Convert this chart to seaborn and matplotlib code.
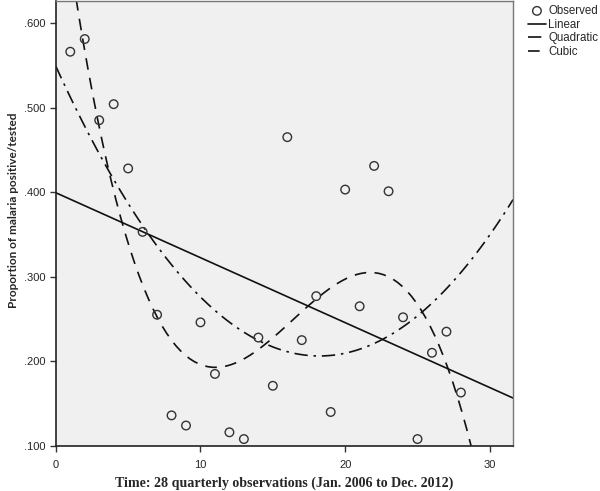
import matplotlib
matplotlib.use('Agg')
import matplotlib.pyplot as plt
import numpy as np
import pandas as pd
import seaborn as sns

# Observed proportions, quarterly 2006-2012
quarter = list(range(1, 29))
proportion = [0.566, 0.581, 0.485, 0.504, 0.428, 0.353, 0.255, 0.136,
              0.124, 0.246, 0.185, 0.116, 0.108, 0.228, 0.171, 0.465,
              0.225, 0.277, 0.140, 0.403, 0.265, 0.431, 0.401, 0.252,
              0.108, 0.210, 0.235, 0.163]

x_ticks = [0, 10, 20, 30]
y_ticks = [0.1, 0.2, 0.3, 0.4, 0.5, 0.6]

df = pd.DataFrame({'time': quarter, 'prop': proportion})

sns.set_style('white')
plt.rcParams['font.family'] = ['Liberation Sans', 'DejaVu Sans']

fig = plt.figure(figsize=(6, 4.91), dpi=100)
ax = fig.add_axes([0.093, 0.092, 0.762, 0.906])
ax.set_facecolor('#f0f0f0')
ax.set_xlim(0, 31.6)
ax.set_ylim(0.1, 0.626)

# fitted curves (SPSS curve estimation: linear, quadratic, cubic)
fits = [(1, 'Linear', None), (2, 'Quadratic', (8, 3.5, 1.5, 3.5)), (3, 'Cubic', (7, 5))]
sns.scatterplot(data=df, x='time', y='prop', ax=ax, marker='o', s=38,
                facecolor='none', edgecolor='#333333', linewidth=1.0,
                label='Observed', zorder=3)
for order, name, dash in fits:
    kws = dict(color='#111111', lw=1.2)
    if dash is not None:
        kws['dashes'] = dash
    sns.regplot(data=df, x='time', y='prop', order=order, ci=None,
                scatter=False, truncate=False, ax=ax, line_kws=kws)
    ax.lines[-1].set_label(name)

ax.set_xlim(0, 31.6)
ax.set_ylim(0.1, 0.626)
ax.set_xticks(x_ticks)
ax.set_yticks(y_ticks)
ax.set_yticklabels(['.%03d' % round(v * 1000) for v in y_ticks])
ax.tick_params(axis='both', labelsize=8, length=4, width=1, color='#333333',
               direction='out', bottom=True, left=True)
ax.tick_params(axis='x', pad=6)

for side in ['left', 'bottom']:
    ax.spines[side].set_color('#222222')
    ax.spines[side].set_linewidth(1.2)
for side in ['top', 'right']:
    ax.spines[side].set_color('#777777')
    ax.spines[side].set_linewidth(1.0)

ax.set_xlabel('Time: 28 quarterly observations (Jan. 2006 to Dec. 2012)',
              fontfamily='Liberation Serif', fontweight='bold', fontsize=10.1)
ax.set_ylabel('Proportion of malaria positive/tested', fontfamily='Lato',
              fontweight='bold', fontsize=8.5)
ax.xaxis.set_label_coords(0.5, -0.068)
ax.yaxis.set_label_coords(-0.08, 0.53)

leg = ax.legend(loc='upper left', bbox_to_anchor=(0.88, 0.99),
                bbox_transform=fig.transFigure, frameon=False, fontsize=8.3,
                handlelength=1.55, handletextpad=0.2, labelspacing=0.15,
                borderaxespad=0, borderpad=0)

fig.savefig('out.png', dpi=100)
